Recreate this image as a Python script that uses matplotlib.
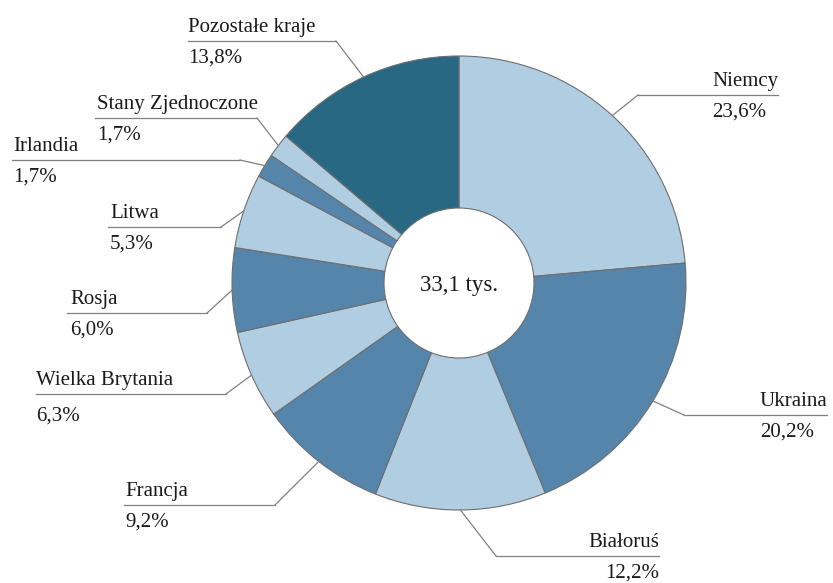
import matplotlib.pyplot as plt
import numpy as np

# data
countries = ['Niemcy', 'Ukraina', 'Białoruś', 'Francja', 'Wielka Brytania',
             'Rosja', 'Litwa', 'Irlandia', 'Stany Zjednoczone', 'Pozostałe kraje']
shares = [23.6, 20.2, 12.2, 9.2, 6.3, 6.0, 5.3, 1.7, 1.7, 13.8]
total_label = '33,1 tys.'

light, mid, dark = '#b0cde1', '#5685ab', '#286883'
colors = [light, mid, light, mid, light, mid, light, mid, light, dark]

# label layout in pixels (top-left origin): line y, line x0, line x1, elbow x, text x, text align
layout = {
    'Niemcy':            (95, 638, 778, 638, 712, 'left'),
    'Ukraina':           (415, 684, 827, 684, 760, 'left'),
    'Białoruś':          (556, 496, 659, 496, 659, 'right'),
    'Francja':           (505, 124, 275, 275, 125, 'left'),
    'Wielka Brytania':   (394, 36, 226, 226, 36, 'left'),
    'Rosja':             (313, 67, 207, 207, 70, 'left'),
    'Litwa':             (227, 108, 221, 221, 110, 'left'),
    'Irlandia':          (160, 12, 240, 240, 13, 'left'),
    'Stany Zjednoczone': (118, 95, 257, 257, 97, 'left'),
    'Pozostałe kraje':   (41, 188, 336, 336, 188, 'left'),
}

FONT = ['Liberation Serif', 'DejaVu Serif']
TXT = '#1a1a1a'

W, H = 833, 583
fig = plt.figure(figsize=(W / 100, H / 100), dpi=100)
ax = fig.add_axes([0, 0, 1, 1])

cx, cy, R, r = 459, H - 283, 227, 75
wedges, _ = ax.pie(shares, colors=colors, startangle=90, counterclock=False,
                   center=(cx, cy), radius=R,
                   wedgeprops=dict(width=R - r, edgecolor='#6e6e6e', linewidth=0.8))

ax.text(cx, cy - 2, total_label, ha='center', va='center', family=FONT,
        fontsize=16.5, color=TXT)

line_col = '#808080'
for w, name, val in zip(wedges, countries, shares):
    ang = np.deg2rad((w.theta1 + w.theta2) / 2)
    px, py = cx + R * np.cos(ang), cy + R * np.sin(ang)
    hy, x0, x1, ex, tx, ha = layout[name]
    hy = H - hy
    ax.plot([px, ex], [py, hy], color=line_col, lw=0.9)
    ax.plot([x0, x1], [hy, hy], color=line_col, lw=0.9)
    gap = 27 if name == 'Wielka Brytania' else 22
    ax.text(tx, hy + 9, name, ha=ha, va='baseline', family=FONT,
            fontsize=15, color=TXT)
    ax.text(tx, hy - gap, f'{val:.1f}%'.replace('.', ','), ha=ha, va='baseline',
            family=FONT, fontsize=15, color=TXT)

ax.set_xlim(0, W)
ax.set_ylim(0, H)
ax.set_aspect('equal')
ax.axis('off')

fig.savefig('out.png', dpi=100)
